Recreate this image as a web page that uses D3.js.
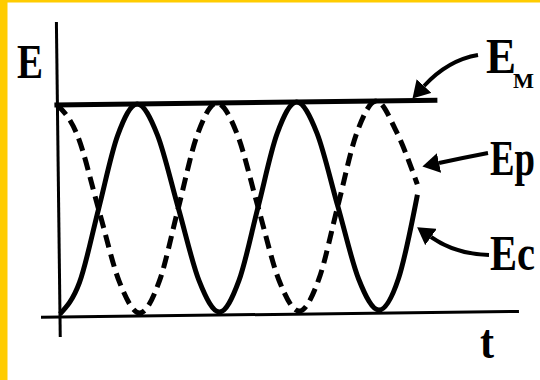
<!DOCTYPE html>
<html>
<head>
<meta charset="utf-8">
<script src="https://cdn.jsdelivr.net/npm/d3@7"></script>
<style>
	html, body { margin: 0; padding: 0; background: #fff; }
	svg { display: block; }
	.lbl { font-family: "Liberation Serif", "DejaVu Serif", "Times New Roman", serif; font-weight: bold; }
</style>
</head>
<body>
<div class="plot"></div>
<script>
// t is counted in half periods of the energy curves (one hump = 1 unit)
var times = [0, 0.25, 0.5, 0.75, 1, 1.25, 1.5, 1.75, 2, 2.25, 2.5, 2.75, 3, 3.25, 3.5, 3.75, 4, 4.25, 4.5];
var ecValues = [0, 0.15, 0.5, 0.85, 1, 0.85, 0.5, 0.15, 0, 0.15, 0.5, 0.85, 1, 0.85, 0.5, 0.15, 0, 0.15, 0.55];
var epValues = [1, 0.85, 0.5, 0.15, 0, 0.15, 0.5, 0.85, 1, 0.85, 0.5, 0.15, 0, 0.15, 0.5, 0.85, 1, 0.85, 0.6];
var emValue = 1;
var axisNames = ["E", "t"];
var seriesNames = ["E", "Ep", "Ec"];
var emSubscript = "M";

var W = 540, H = 380;
var o = {x: 60, y: 317};   // axes origin (before the slight tilt of the scan)

var svg = d3.select('.plot').append('svg')
	.attr('width', W)
	.attr('height', H);

svg.append('rect').attr('width', W).attr('height', H).attr('fill', '#fff');
svg.append('rect').attr('x', 0).attr('y', 0).attr('width', 7.5).attr('height', H).attr('fill', '#ffcc00');
svg.append('rect').attr('x', 0).attr('y', 0).attr('width', W).attr('height', 2.5).attr('fill', '#ffcc00');

var x = d3.scaleLinear().domain([0, 4]).range([60, 379]),
	y = d3.scaleLinear().domain([0, 1]).range([314, 105]);

var g = svg.append('g')
	.attr('transform', 'rotate(-0.7,' + o.x + ',' + o.y + ')');

// axes
g.append('line')
	.attr('x1', 41).attr('x2', 519)
	.attr('y1', o.y).attr('y2', o.y)
	.attr('stroke', '#000').attr('stroke-width', 3);
g.append('line')
	.attr('x1', o.x).attr('x2', o.x)
	.attr('y1', 22).attr('y2', 337)
	.attr('stroke', '#000').attr('stroke-width', 3);

// total energy
g.append('line')
	.attr('x1', 57).attr('x2', 440)
	.attr('y1', y(emValue)).attr('y2', y(emValue))
	.attr('stroke', '#000').attr('stroke-width', 5);

var line = d3.line()
	.x(function(d) { return x(d[0]); })
	.y(function(d) { return y(d[1]); })
	.curve(d3.curveMonotoneX);

g.append('path')
	.datum(d3.zip(times, epValues))
	.attr('d', line)
	.attr('fill', 'none')
	.attr('stroke', '#000')
	.attr('stroke-width', 5)
	.attr('stroke-dasharray', '13,7');

g.append('path')
	.datum(d3.zip(times, ecValues))
	.attr('d', line)
	.attr('fill', 'none')
	.attr('stroke', '#000')
	.attr('stroke-width', 5);

// arrows
svg.append('defs').append('marker')
	.attr('id', 'head')
	.attr('markerUnits', 'userSpaceOnUse')
	.attr('viewBox', '0 -10 17 20')
	.attr('refX', 0).attr('refY', 0)
	.attr('markerWidth', 17).attr('markerHeight', 20)
	.attr('orient', 'auto')
	.append('path')
	.attr('d', 'M0,-10L17,0L0,10Z')
	.attr('fill', '#000');

var arrows = [
	'M478,55Q448,60 424,86',
	'M488,153Q462,158 439,163',
	'M489,255Q455,254 431,237'
];
svg.selectAll('.arrow')
	.data(arrows)
	.enter()
	.append('path')
	.attr('class', 'arrow')
	.attr('d', function(d) { return d; })
	.attr('fill', 'none')
	.attr('stroke', '#000')
	.attr('stroke-width', 4)
	.attr('marker-end', 'url(#head)');

// labels
var texts = [
	{t: axisNames[0], x: 17, y: 78, s: 48, l: 26},
	{t: axisNames[1], x: 480, y: 358, s: 48, l: 14},
	{t: seriesNames[0], x: 486, y: 73, s: 50, l: 30},
	{t: emSubscript, x: 513, y: 88, s: 20, l: 21},
	{t: seriesNames[1], x: 490, y: 175, s: 50, l: 45},
	{t: seriesNames[2], x: 490, y: 270, s: 50, l: 45}
];
svg.selectAll('.lbl')
	.data(texts)
	.enter()
	.append('text')
	.attr('class', 'lbl')
	.attr('x', function(d) { return d.x; })
	.attr('y', function(d) { return d.y; })
	.attr('font-size', function(d) { return d.s; })
	.attr('textLength', function(d) { return d.l; })
	.attr('lengthAdjust', 'spacingAndGlyphs')
	.attr('fill', '#000')
	.text(function(d) { return d.t; });
</script>
</body>
</html>
